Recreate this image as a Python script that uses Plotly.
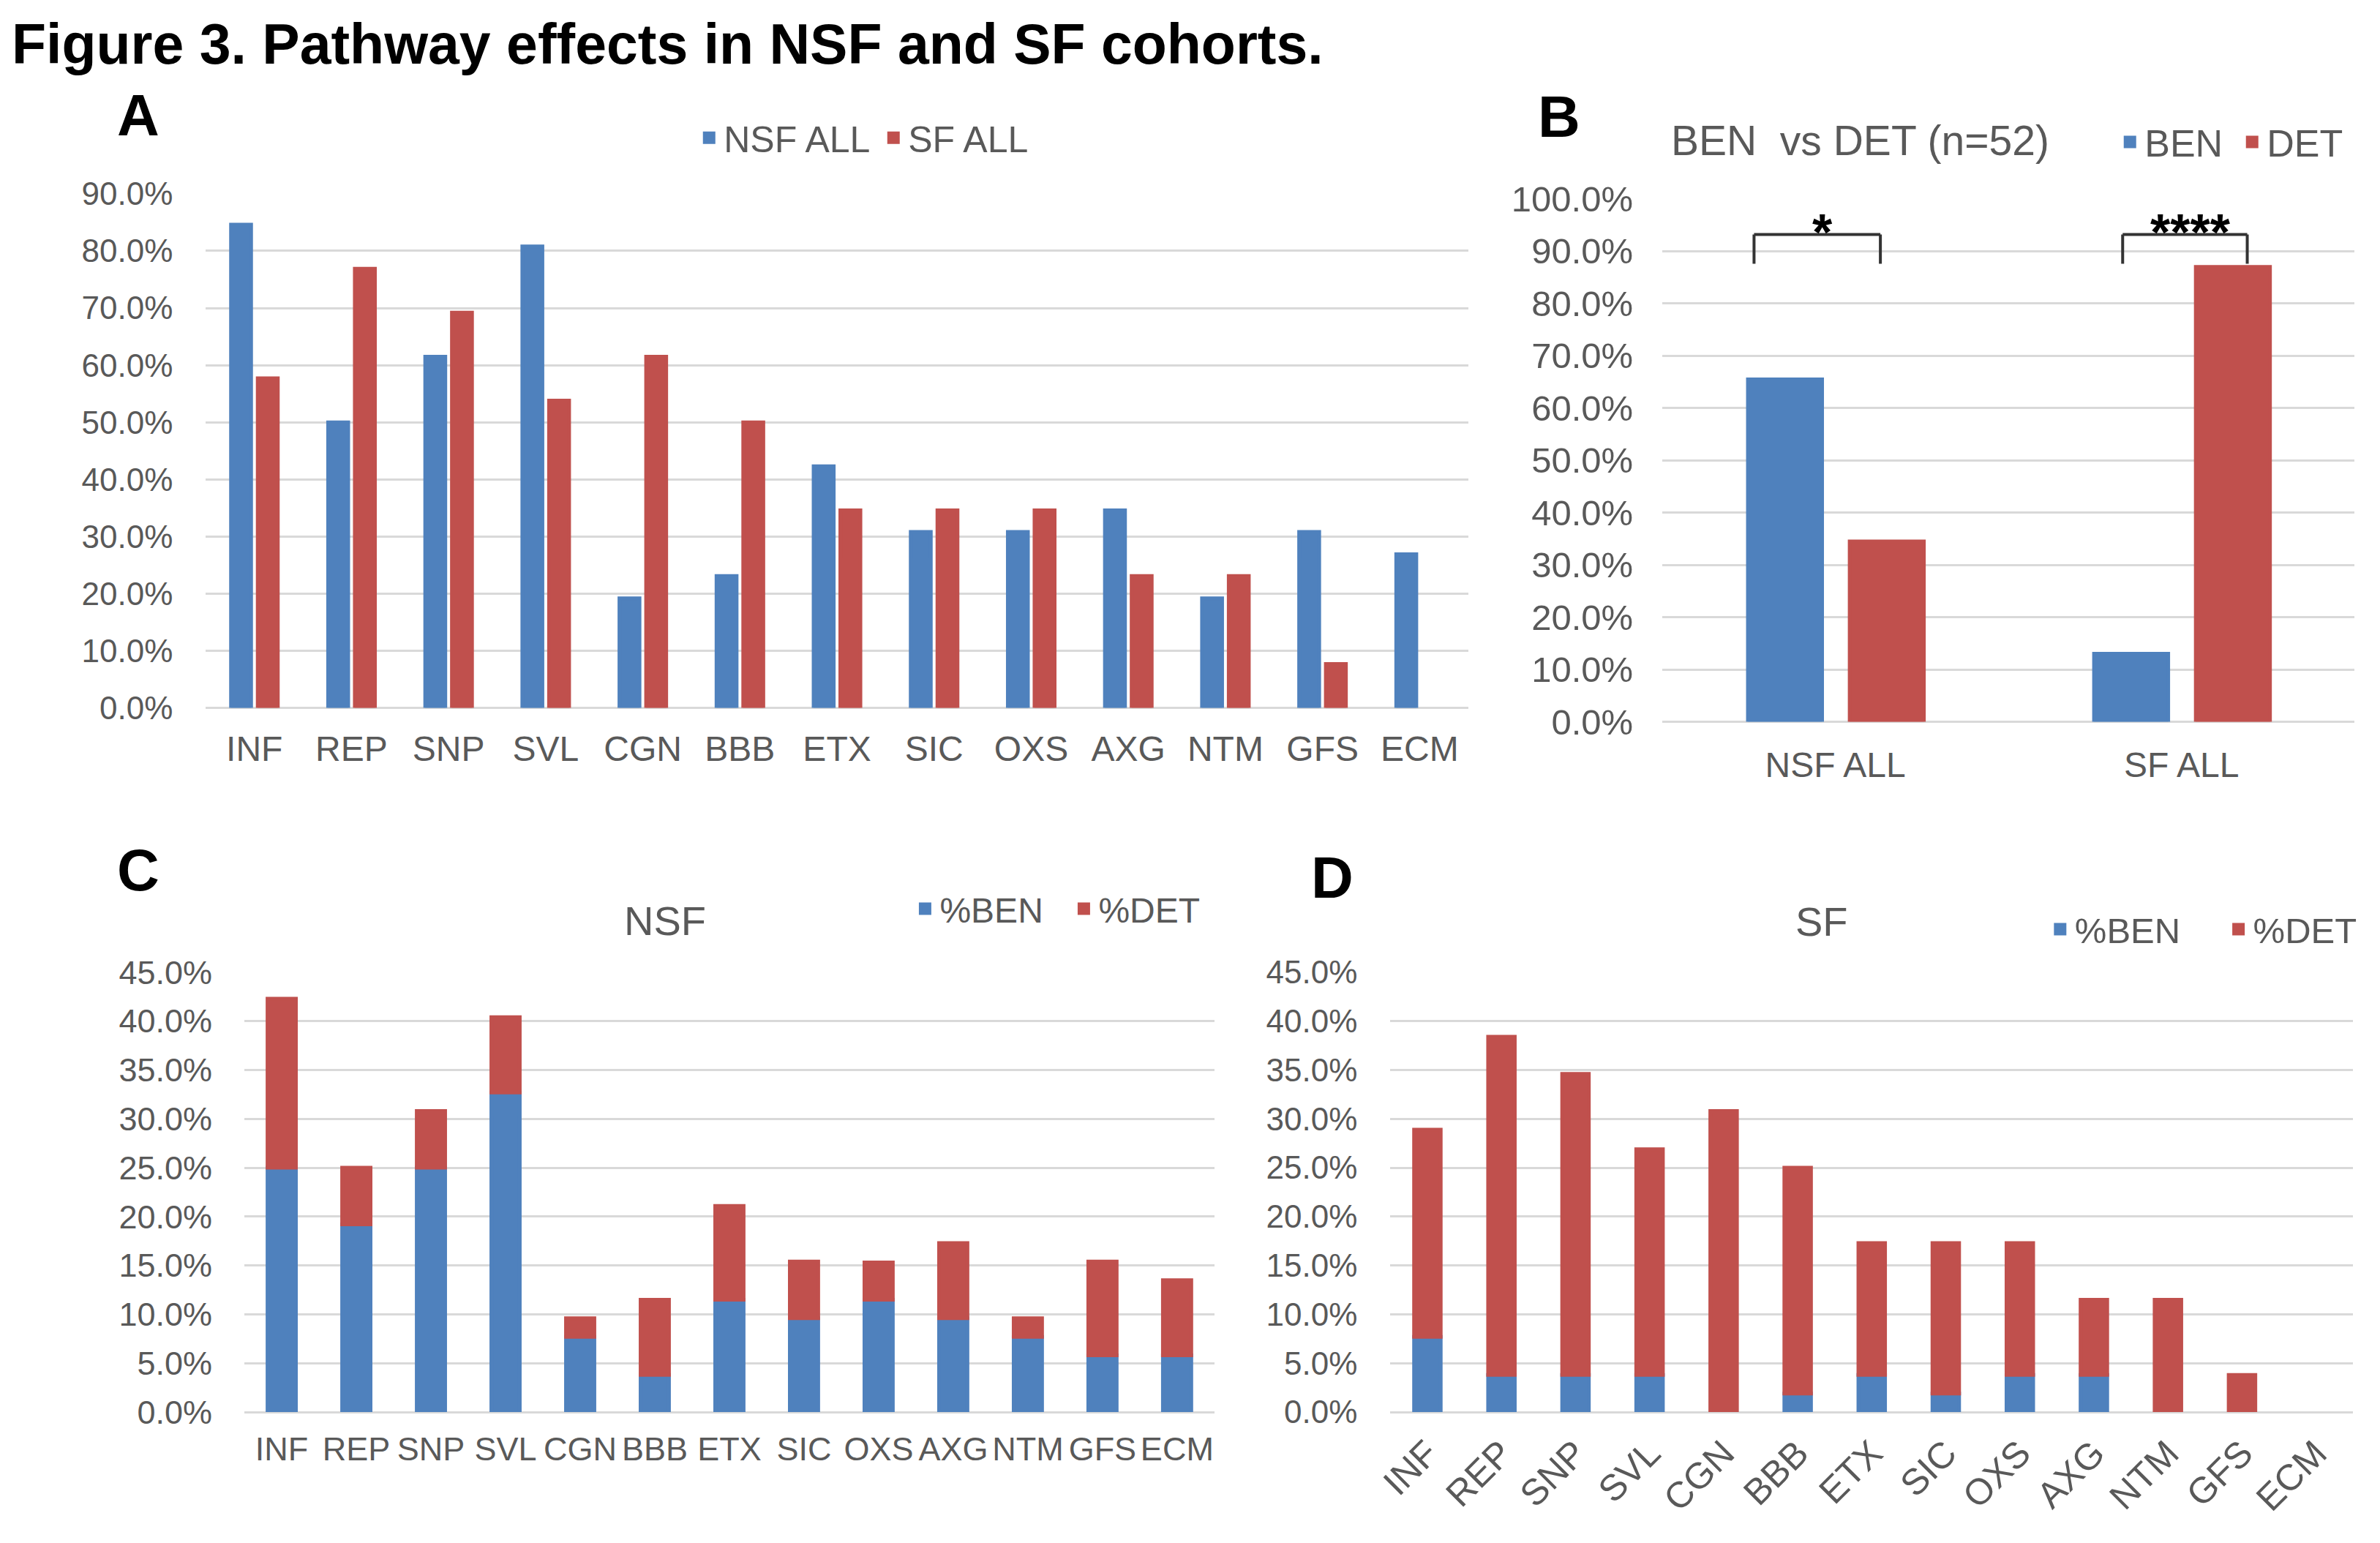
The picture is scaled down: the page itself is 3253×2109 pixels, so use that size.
import plotly.graph_objects as go

# ---------------- data ----------------
categories = ["INF", "REP", "SNP", "SVL", "CGN", "BBB", "ETX", "SIC", "OXS", "AXG", "NTM", "GFS", "ECM"]
nsf_all = [84.6, 50.0, 61.5, 80.8, 19.2, 23.1, 42.3, 30.8, 30.8, 34.6, 19.2, 30.8, 26.9]
sf_all = [57.7, 76.9, 69.2, 53.8, 61.5, 50.0, 34.6, 34.6, 34.6, 23.1, 23.1, 7.7, 0.0]

cohorts = ["NSF ALL", "SF ALL"]
ben_all = [65.5, 13.0]
det_all = [34.5, 87.0]

nsf_ben = [25.0, 19.2, 25.0, 32.7, 7.7, 3.8, 11.5, 9.6, 11.5, 9.6, 7.7, 5.8, 5.8]
nsf_det = [17.3, 5.8, 5.8, 7.7, 1.9, 7.7, 9.6, 5.8, 3.8, 7.7, 1.9, 9.6, 7.7]
sf_ben = [7.7, 3.8, 3.8, 3.8, 0.0, 1.9, 3.8, 1.9, 3.8, 3.8, 0.0, 0.0, 0.0]
sf_det = [21.2, 34.6, 30.8, 23.1, 30.8, 23.1, 13.5, 15.4, 13.5, 7.7, 11.5, 3.8, 0.0]

ticks_a = [0, 10, 20, 30, 40, 50, 60, 70, 80, 90]
ticks_b = [0, 10, 20, 30, 40, 50, 60, 70, 80, 90, 100]
ticks_cd = [0, 5, 10, 15, 20, 25, 30, 35, 40, 45]

# significance brackets for panel B: (category index, left, right, label)
sig_brackets = [(0, -0.235, 0.13, "*"), (1, -0.17, 0.19, "****")]
sig_top, sig_foot, sig_label_y = 93.2, 87.6, 93.6

# ---------------- style ----------------
W, H = 3253, 2109
BLUE = "#4F81BD"
RED = "#C0504D"
GRID = "#D9D9D9"
TXT = "#595959"
FONT = "Liberation Sans, Arial, sans-serif"
NB = "\u00a0"
EDGE = 5  # bar outline (same colour as fill) -> larger legend swatches

# placement helpers (target pixel positions -> paper fractions)
CAL_DX, CAL_DY, CAL_SY = 16, 27, 0.979


def px(x):
    return (x - CAL_DX) / W


def py(y):
    return 1 - (y - CAL_DY) / CAL_SY / H


def pct(vals):
    return ["%.1f%%" % v for v in vals]


def edge(vals):
    return [EDGE if v > 0 else 0 for v in vals]


def bar(x, y, name, color, width, offset, ax, leg, base=None, cat_px=100.0):
    trim = EDGE / cat_px
    return go.Bar(x=x, y=y, base=base, name=name, marker_color=color,
                  marker_line=dict(color=color, width=edge(y)),
                  width=width - trim, offset=offset + trim / 2,
                  xaxis="x" + ax, yaxis="y" + ax, legend=leg, hoverinfo="skip")


fig = go.Figure()

# Panel A
fig.add_trace(bar(categories, nsf_all, "NSF ALL", BLUE, 0.245, -0.26, "", "legend", cat_px=133.5))
fig.add_trace(bar(categories, sf_all, "SF ALL", RED, 0.245, 0.015, "", "legend", cat_px=133.5))

# Panel B
fig.add_trace(bar(cohorts, ben_all, "BEN", BLUE, 0.225, -0.258, "2", "legend2", cat_px=476.0))
fig.add_trace(bar(cohorts, det_all, "DET", RED, 0.225, 0.036, "2", "legend2", cat_px=476.0))

# Panel C (stacked)
fig.add_trace(bar(categories, nsf_ben, "%BEN", BLUE, 0.43, -0.215, "3", "legend3", cat_px=102.6))
fig.add_trace(bar(categories, nsf_det, "%DET", RED, 0.43, -0.215, "3", "legend3",
                  base=nsf_ben, cat_px=102.6))

# Panel D (stacked)
fig.add_trace(bar(categories, sf_ben, "%BEN" + NB * 4, BLUE, 0.41, -0.205, "4", "legend4",
                  cat_px=101.8))
fig.add_trace(bar(categories, sf_det, "%DET", RED, 0.41, -0.205, "4", "legend4",
                  base=sf_ben, cat_px=101.8))


def xax(domain, anchor, n, size, standoff, angle=0):
    return dict(domain=domain, anchor=anchor, type="category", range=[-0.5, n - 0.5],
                showgrid=False, showline=False, zeroline=False, ticks="",
                tickangle=angle, ticklabelstandoff=standoff,
                tickfont=dict(family=FONT, size=size, color=TXT), fixedrange=True)


def yax(domain, anchor, rng, tickvals, size, standoff):
    return dict(domain=domain, anchor=anchor, range=rng, tickmode="array",
                tickvals=tickvals, ticktext=pct(tickvals),
                showgrid=True, gridcolor=GRID, gridwidth=3,
                zeroline=True, zerolinecolor=GRID, zerolinewidth=3, showline=False, ticks="",
                ticklabelstandoff=standoff,
                tickfont=dict(family=FONT, size=size, color=TXT), fixedrange=True)


def legend_cfg(x, y, size, entry=0):
    return dict(x=x, y=y, xanchor="left", yanchor="middle", orientation="h",
                entrywidth=entry, entrywidthmode="pixels",
                bgcolor="rgba(0,0,0,0)", font=dict(family=FONT, size=size, color=TXT),
                itemclick=False, itemdoubleclick=False, tracegroupgap=0)


n = len(categories)
fig.update_layout(
    width=W, height=H, margin=dict(l=0, r=0, t=0, b=0),
    paper_bgcolor="white", plot_bgcolor="white",
    barmode="overlay", showlegend=True,
    font=dict(family=FONT, color=TXT),
    xaxis=xax([px(279), px(2015)], "y", n, 48, 23),
    yaxis=yax([py(972), py(266)], "x", [0, 90], ticks_a, 44, 44),
    xaxis2=xax([px(2282), px(3234)], "y2", len(cohorts), 48, 27),
    yaxis2=yax([py(991), py(273)], "x2", [0, 100], ticks_b, 49, 39),
    xaxis3=xax([px(332), px(1666)], "y3", n, 45, 20),
    yaxis3=yax([py(1939), py(1335)], "x3", [0, 45], ticks_cd, 45, 43),
    xaxis4=xax([px(1908), px(3232)], "y4", n, 50, 16, angle=-45),
    yaxis4=yax([py(1939), py(1335)], "x4", [0, 45], ticks_cd, 44, 44),
    legend=legend_cfg(px(951), py(189), 50, 207),
    legend2=legend_cfg(px(2905), py(195), 52, 122),
    legend3=legend_cfg(px(1248), py(1248), 48, 172),
    legend4=legend_cfg(px(2809), py(1276), 49),
)

annotations = [
    dict(text="<b>Figure 3. Pathway effects in NSF and SF cohorts.</b>", x=px(10), y=py(60),
         xanchor="left", yanchor="middle", font=dict(size=77, color="black")),
    dict(text="<b>A</b>", x=px(186), y=py(158), xanchor="center", yanchor="middle",
         font=dict(size=80, color="black")),
    dict(text="<b>B</b>", x=px(2140), y=py(160), xanchor="center", yanchor="middle",
         font=dict(size=80, color="black")),
    dict(text="<b>C</b>", x=px(186), y=py(1195), xanchor="center", yanchor="middle",
         font=dict(size=80, color="black")),
    dict(text="<b>D</b>", x=px(1828), y=py(1205), xanchor="center", yanchor="middle",
         font=dict(size=80, color="black")),
    dict(text="BEN\u00a0 vs DET (n=52)", x=px(2292), y=py(193), xanchor="left", yanchor="middle",
         font=dict(size=57, color=TXT)),
    dict(text="NSF", x=px(910), y=py(1264), xanchor="center", yanchor="middle",
         font=dict(size=56, color=TXT)),
    dict(text="SF", x=px(2501), y=py(1265), xanchor="center", yanchor="middle",
         font=dict(size=56, color=TXT)),
]
for a in annotations:
    a.update(xref="paper", yref="paper", showarrow=False)
    a["font"]["family"] = FONT

shapes = []
for idx, left, right, label in sig_brackets:
    x0, x1 = idx + left, idx + right
    for (xa, ya, xb, yb) in [(x0, sig_foot, x0, sig_top), (x0, sig_top, x1, sig_top),
                             (x1, sig_top, x1, sig_foot)]:
        shapes.append(dict(type="line", xref="x2", yref="y2", x0=xa, y0=ya, x1=xb, y1=yb,
                           line=dict(color="#333333", width=4)))
    annotations.append(dict(text="<b>" + label + "</b>", x=(x0 + x1) / 2 + 0.015, y=sig_label_y,
                            xref="x2", yref="y2", showarrow=False, xanchor="center",
                            yanchor="middle", font=dict(family=FONT, size=70, color="black")))

fig.update_layout(annotations=annotations, shapes=shapes)

fig.write_html("out.html", config={"displayModeBar": False},
               post_script="document.body.style.margin='0px';")
